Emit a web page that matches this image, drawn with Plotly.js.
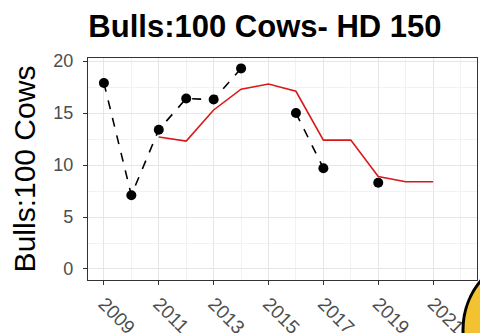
<!DOCTYPE html>
<html><head><meta charset="utf-8">
<script src="https://cdn.plot.ly/plotly-3.0.1.min.js"></script>
<style>html,body{margin:0;padding:0;background:#fff}#chart{width:480px;height:333px}</style>
</head><body><div id="chart"></div>
<script>
var years = [2009,2010,2011,2012,2013,2014,2015,2016,2017,2018,2019,2020,2021];
var observed = [17.9,7.1,13.4,16.4,16.3,19.3,null,15.0,9.7,null,8.3,null,null];
var modeled = [null,null,12.7,12.3,15.3,17.3,17.8,17.1,12.4,12.4,8.9,8.4,8.4];
var xTicks = [2009,2011,2013,2015,2017,2019,2021];
var yTicks = [0,5,10,15,20];

var font = "Liberation Sans, Arial, sans-serif";
var traces = [
  {x: years, y: modeled, mode: 'lines', type: 'scatter',
   line: {color: '#d7191c', width: 1.6}, connectgaps: false, hoverinfo: 'skip'},
  {x: years, y: observed, mode: 'lines+markers', type: 'scatter',
   line: {color: '#000000', width: 1.6, dash: 'dash'},
   marker: {color: '#000000', size: 10}, connectgaps: false}
];
var layout = {
  width: 480, height: 333,
  margin: {l: 88, r: 3, t: 58, b: 53},
  showlegend: false,
  paper_bgcolor: '#ffffff', plot_bgcolor: '#ffffff',
  font: {family: font},
  title: {text: '<b>Bulls:100 Cows- HD 150</b>', font: {family: font, size: 31, color: '#000000'},
          x: 0.552, xanchor: 'center', xref: 'container', y: 0.92, yanchor: 'middle', yref: 'container'},
  xaxis: {range: [2008.42, 2022.6], tickvals: xTicks, ticktext: xTicks.map(String),
          tickangle: 45, ticks: 'outside', ticklen: 4, tickcolor: '#333333',
          tickfont: {family: font, size: 19, color: '#4d4d4d'},
          showgrid: true, gridcolor: '#e6e6e6', gridwidth: 1,
          minor: {dtick: 1, tick0: 2008, showgrid: true, gridcolor: '#f2f2f2', gridwidth: 1},
          showline: true, linecolor: '#333333', linewidth: 1.2, mirror: true, zeroline: false},
  yaxis: {range: [-1.06, 20.3], tickvals: yTicks, ticks: 'outside', ticklen: 4, tickcolor: '#333333',
          ticklabelstandoff: 6,
          tickfont: {family: font, size: 18, color: '#4d4d4d'},
          title: {text: 'Bulls:100 Cows', font: {family: font, size: 30, color: '#000000'}, standoff: 8},
          showgrid: true, gridcolor: '#e6e6e6', gridwidth: 1,
          minor: {dtick: 2.5, tick0: 0, showgrid: true, gridcolor: '#f2f2f2', gridwidth: 1},
          showline: true, linecolor: '#333333', linewidth: 1.2, mirror: true, zeroline: false},
  shapes: [
    {type: 'circle', xref: 'paper', yref: 'paper', x0: 0.964, x1: 1.36, y0: -0.572, y1: 0.1216,
     fillcolor: '#f2c230', line: {color: '#000000', width: 3}}
  ]
};
Plotly.newPlot('chart', traces, layout, {displayModeBar: false, staticPlot: true});
</script></body></html>
